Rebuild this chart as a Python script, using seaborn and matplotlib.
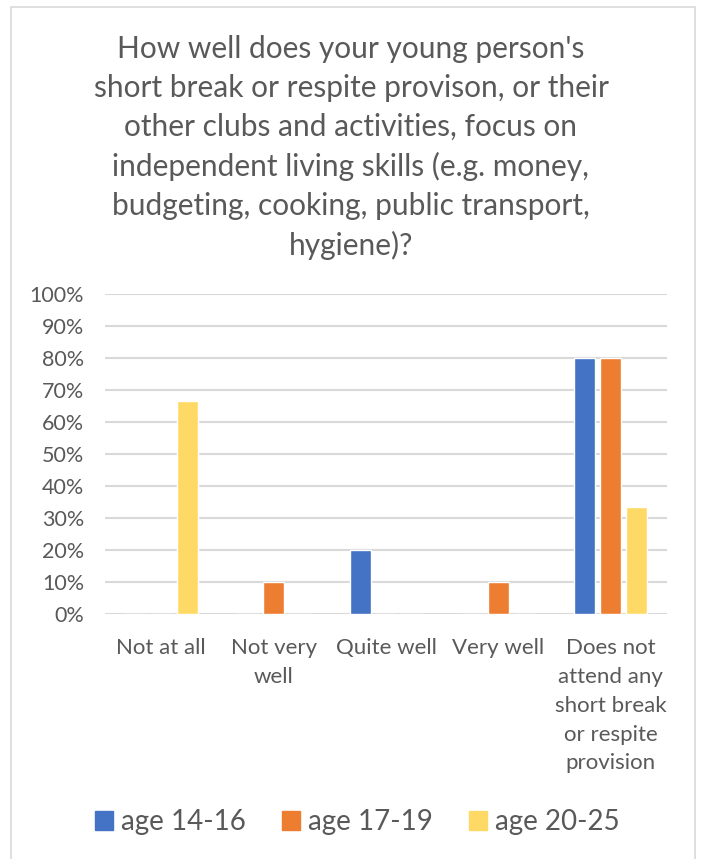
import matplotlib.pyplot as plt
import matplotlib.patches as mpatches
import pandas as pd
import seaborn as sns

# data
categories = ["Not at all", "Not very\nwell", "Quite well", "Very well",
              "Does not\nattend any\nshort break\nor respite\nprovision"]
age_groups = ["age 14-16", "age 17-19", "age 20-25"]
age_14_16 = [0.0, 0.0, 20.0, 0.0, 80.0]
age_17_19 = [0.0, 10.0, 0.0, 10.0, 80.0]
age_20_25 = [66.7, 0.0, 0.0, 0.0, 33.3]
colors = ["#4472C4", "#ED7D31", "#FFD966"]

title = ("How well does your young person's\nshort break or respite provison, or their\n"
         "other clubs and activities, focus on\nindependent living skills (e.g. money,\n"
         "budgeting, cooking, public transport,\nhygiene)?")

df = pd.DataFrame({
    "category": categories * 3,
    "group": [age_groups[0]] * 5 + [age_groups[1]] * 5 + [age_groups[2]] * 5,
    "value": age_14_16 + age_17_19 + age_20_25,
})

sns.set_style("white")
plt.rcParams["font.family"] = ["Lato", "DejaVu Sans"]
text_col = "#595959"

fig = plt.figure(figsize=(7.02, 8.59), dpi=100)
ax = fig.add_axes([0.1496, 0.2852, 0.8004, 0.3725])

sns.barplot(data=df, x="category", y="value", hue="group", palette=colors,
            width=0.69, gap=0.19, ax=ax, legend=False, saturation=1)

ax.set_ylim(0, 100)
ax.set_yticks(range(0, 101, 10))
ax.set_yticklabels([f"{v}%" for v in range(0, 101, 10)])
ax.yaxis.grid(True, color="#D9D9D9", linewidth=1.5)
ax.set_axisbelow(True)
for s in ax.spines.values():
    s.set_visible(False)
ax.tick_params(axis="y", length=0, labelsize=15.5, colors=text_col, pad=15)
ax.tick_params(axis="x", length=0, labelsize=16, colors=text_col, pad=17)
for lbl in ax.get_xticklabels():
    lbl.set_linespacing(1.56)
    lbl.set_verticalalignment("top")
ax.set_xlabel("")
ax.set_ylabel("")
ax.set_xlim(-0.5, 4.5)

fig.text(0.5, 0.9595, title, ha="center", va="top", fontsize=21.5, color=text_col,
         linespacing=1.47)

handles = [mpatches.Patch(color=c, label=g) for c, g in zip(colors, age_groups)]
fig.legend(handles=handles, loc="center", bbox_to_anchor=(0.509, 0.043), ncol=3,
           frameon=False, fontsize=20, labelcolor=text_col, handlelength=0.65,
           handleheight=0.65, handletextpad=0.29, columnspacing=1.3)

# light chart border
fig.patches.append(mpatches.Rectangle((11 / 702, -0.01), 684 / 702, 1 - 7 / 859 + 0.01,
                                      transform=fig.transFigure, fill=False,
                                      edgecolor="#D9D9D9", linewidth=1.2))

fig.savefig("out.png", dpi=100)
